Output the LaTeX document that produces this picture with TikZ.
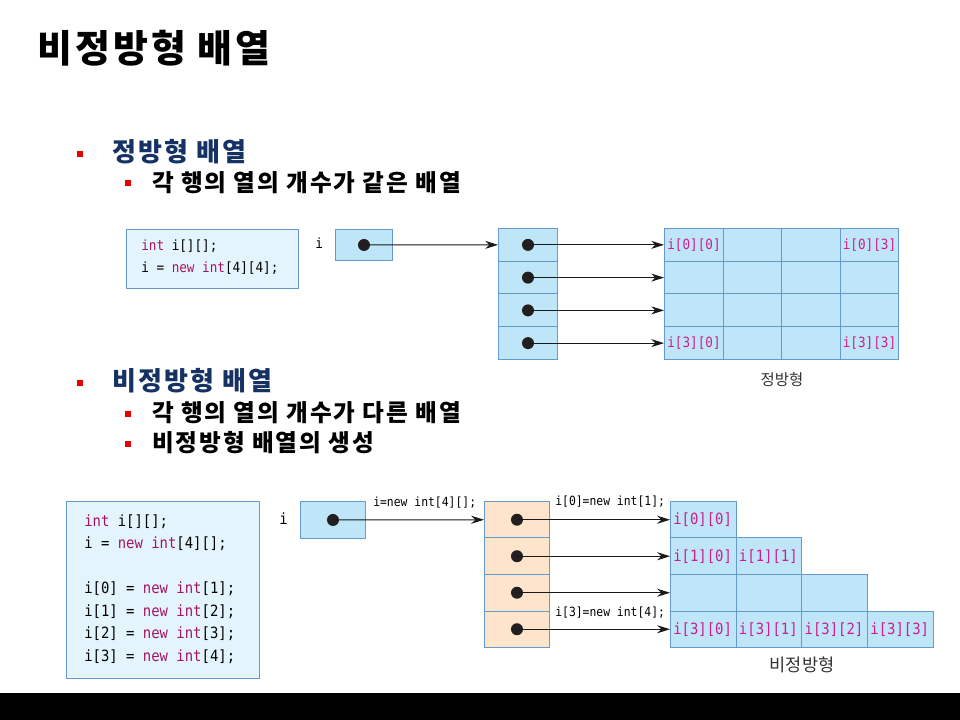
\documentclass[tikz,border=0pt]{standalone}
\usepackage{fontspec}
\newfontfamily\kr{Noto Sans CJK KR}
\newfontfamily\krwide{Noto Sans CJK KR}[LetterSpace=8]
\newfontfamily\code{DejaVu Sans Mono}[FakeStretch=0.9]
\usetikzlibrary{arrows.meta}
\newlength\px \setlength\px{0.025cm}
\definecolor{cellblue}{RGB}{190,229,248}
\definecolor{cellline}{RGB}{102,153,204}
\definecolor{codebg}{RGB}{228,244,252}
\definecolor{ptrorange}{RGB}{253,228,202}
\definecolor{idxpink}{RGB}{204,30,140}
\definecolor{kwpurple}{RGB}{165,20,100}
\definecolor{headblue}{RGB}{22,50,100}
\definecolor{bulletred}{RGB}{230,0,0}
\definecolor{dotblack}{RGB}{35,31,32}
\tikzset{
  cell/.style={draw=cellline, fill=cellblue, line width=0.7pt, anchor=north west, inner sep=0pt},
  ptrcell/.style={cell, fill=ptrorange},
  codebox/.style={draw=cellline, fill=codebg, line width=0.7pt, anchor=north west, inner sep=0pt},
  codetxt/.style={anchor=north west, align=left, inner sep=0pt},
  dot/.style={circle, fill=dotblack, minimum size=12\px, inner sep=0pt},
  ptrarrow/.style={-{Stealth[length=3.2mm,width=2mm]}, line width=0.7pt, draw=black!90},
  idx/.style={anchor=west, inner sep=0pt, text=idxpink},
  bullet/.style={fill=bulletred, minimum size=6\px, inner sep=0pt},
  headtxt/.style={anchor=west, inner sep=0pt, font=\krwide\bfseries\fontsize{18.5}{20}\selectfont, text=headblue},
  subtxt/.style={anchor=west, inner sep=0pt, font=\krwide\bfseries\fontsize{16.8}{18}\selectfont},
  note/.style={anchor=west, inner sep=0pt, font=\code\fontsize{9}{11}\selectfont}
}
\newcommand{\kw}[1]{{\color{kwpurple}#1}}
\begin{document}
\begin{tikzpicture}[x=0.025cm, y=-0.025cm]
    \useasboundingbox (0,0) rectangle (960,720);
    % Title and bullets
    \node[anchor=west, inner sep=0pt, font=\krwide\bfseries\fontsize{27}{30}\selectfont] (title) at (37,48) {비정방형 배열};
    \node[bullet] (b1) at (79.5,154.5) {};
    \node[headtxt] (h1) at (112,152) {정방형 배열};
    \node[bullet] (b11) at (127.5,183.5) {};
    \node[subtxt] (s11) at (152,183) {각 행의 열의 개수가 같은 배열};
    \node[bullet] (b2) at (79.5,383.5) {};
    \node[headtxt] (h2) at (112,381) {비정방형 배열};
    \node[bullet] (b21) at (127.5,414.5) {};
    \node[subtxt] (s21) at (152,413) {각 행의 열의 개수가 다른 배열};
    \node[bullet] (b22) at (127.5,444.5) {};
    \node[subtxt] (s22) at (152,443) {비정방형 배열의 생성};

    % Square array
    \node[codebox, minimum width=172\px, minimum height=59\px] (codeA) at (126,229) {};
    \node[codetxt, font=\code\fontsize{10}{15}\selectfont] (codeAtxt) at (141,240)
        {\kw{int} i[][];\\ i = \kw{new int}[4][4];};
    \node[note, font=\code\fontsize{10}{12}\selectfont] (iAlab) at (315,243) {i};
    \node[cell, minimum width=57\px, minimum height=31\px] (iA) at (335,229) {};
    \node[dot] (diA) at (iA.center) {};
    \foreach \r in {0,...,3} {
        \node[cell, minimum width=59\px, minimum height=32.75\px] (p\r) at (498,228+\r*32.75) {};
        \foreach \c in {0,...,3}
            \node[cell, minimum width=58.5\px, minimum height=32.75\px] (g\r\c) at (664+\c*58.5,228+\r*32.75) {};
        \node[dot] (dp\r) at (p\r.center) {};
        \draw[ptrarrow] (dp\r.center) -- (g\r0.west);
    }
    \draw[ptrarrow] (diA.center) -- (p0.west);
    \foreach \r/\c in {0/0,0/3,3/0,3/3}
        \node[idx, font=\code\fontsize{10}{12}\selectfont] at ([xshift=3\px]g\r\c.west) {i[\r][\c]};
    \node[font=\kr\fontsize{11}{12}\selectfont, text=black!80] (capA) at (782,380) {정방형};

    % Ragged array
    \node[codebox, minimum width=193\px, minimum height=177\px] (codeB) at (66,501) {};
    \node[codetxt, font=\code\fontsize{11}{16}\selectfont] (codeBtxt) at (84,514)
        {\kw{int} i[][];\\ i = \kw{new int}[4][];\\[16pt]
         i[0] = \kw{new int}[1];\\ i[1] = \kw{new int}[2];\\
         i[2] = \kw{new int}[3];\\ i[3] = \kw{new int}[4];};
    \node[note, font=\code\fontsize{11}{12}\selectfont] (iBlab) at (279,519) {i};
    \node[cell, minimum width=65\px, minimum height=37\px] (iB) at (300,501) {};
    \node[dot] (diB) at (iB.center) {};
    \foreach \r in {0,...,3} {
        \node[ptrcell, minimum width=65\px, minimum height=36.5\px] (q\r) at (484,501+\r*36.5) {};
        \foreach \c in {0,...,\r}
            \node[cell, minimum width=65.7\px, minimum height=36.5\px] (h\r\c) at (670+\c*65.7,501+\r*36.5) {};
        \node[dot] (dq\r) at (q\r.center) {};
        \draw[ptrarrow] (dq\r.center) -- (h\r0.west);
    }
    \draw[ptrarrow] (diB.center) -- (q0.west);
    \node[note] (nB) at (373,503) {i=new int[4][];};
    \node[note] (nq0) at (555,502) {i[0]=new int[1];};
    \node[note] (nq3) at (555,613) {i[3]=new int[4];};
    \foreach \r/\c in {0/0,1/0,1/1,3/0,3/1,3/2,3/3}
        \node[idx, font=\code\fontsize{11}{13}\selectfont] at ([xshift=3\px]h\r\c.west) {i[\r][\c]};
    \node[font=\kr\fontsize{12.5}{14}\selectfont, text=black!80] (capB) at (802,665) {비정방형};

    % Bottom band
    \fill[black] (0,693) rectangle (960,720);
\end{tikzpicture}
\end{document}
